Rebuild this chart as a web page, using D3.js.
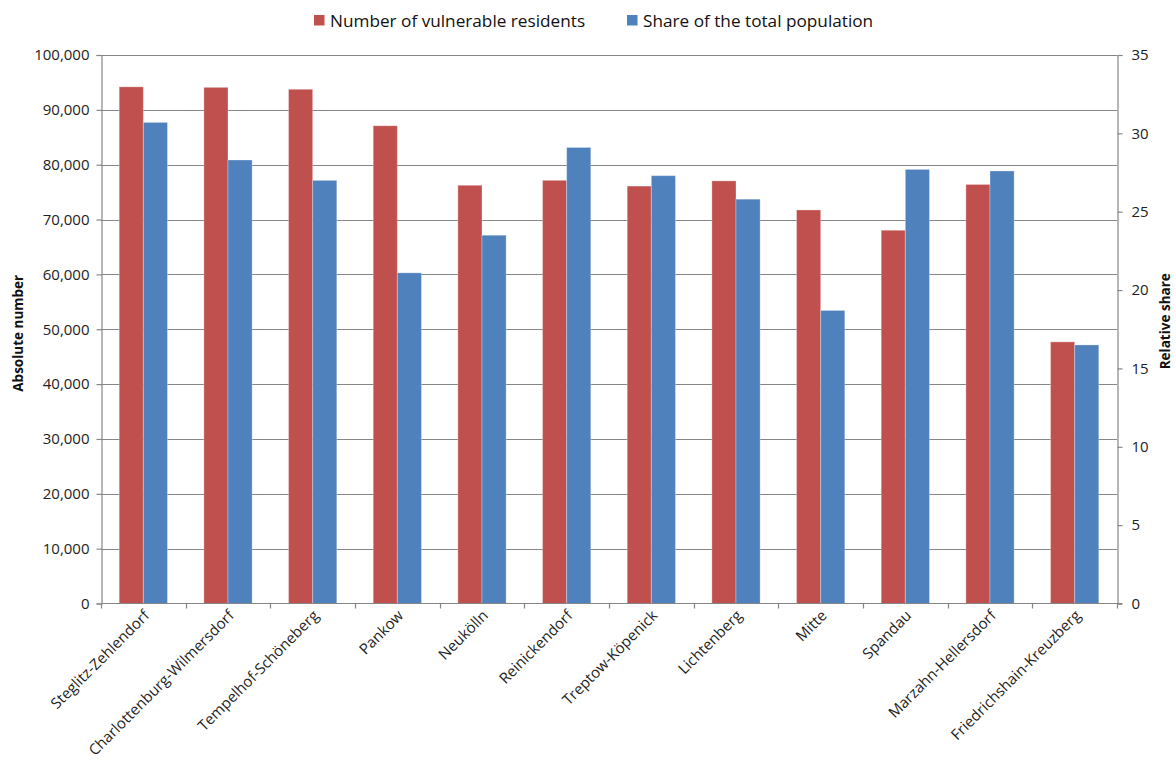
<!DOCTYPE html>
<html>
<head>
<meta charset="utf-8">
<script src="https://cdn.jsdelivr.net/npm/d3@7"></script>
<style>
  html, body { margin: 0; padding: 0; background: #fff; }
  svg { display: block; font-family: "Open Sans", sans-serif; }
</style>
</head>
<body>
<svg id="chart" width="1176" height="760"></svg>
<script>
// Berlin districts: vulnerable residents (absolute) and their share of the population (%)
const districts = [
  "Steglitz-Zehlendorf", "Charlottenburg-Wilmersdorf", "Tempelhof-Schöneberg", "Pankow",
  "Neukölln", "Reinickendorf", "Treptow-Köpenick", "Lichtenberg", "Mitte", "Spandau",
  "Marzahn-Hellersdorf", "Friedrichshain-Kreuzberg"
];
const residents = [94200, 94100, 93750, 87100, 76250, 77150, 76100, 77050, 71750, 68050, 76400, 47700];
const shares = [30.7, 28.3, 27.0, 21.1, 23.5, 29.1, 27.3, 25.8, 18.7, 27.7, 27.6, 16.5];
const seriesNames = ["Number of vulnerable residents", "Share of the total population"];
const seriesColors = ["#C0504D", "#4F81BD"];
const leftTicks = [0, 10000, 20000, 30000, 40000, 50000, 60000, 70000, 80000, 90000, 100000];
const rightTicks = [0, 5, 10, 15, 20, 25, 30, 35];
const leftTitle = "Absolute number";
const rightTitle = "Relative share";

const svg = d3.select("#chart");
const plot = { left: 101, right: 1117, top: 55, bottom: 603.5 };
const axisColor = "#868686";

const x = d3.scaleBand().domain(districts).range([plot.left, plot.right])
  .paddingInner(0.43).paddingOuter(0.215);
const xSub = d3.scaleBand().domain([0, 1]).range([0, x.bandwidth()]);
const yLeft = d3.scaleLinear().domain([0, 100000]).range([plot.bottom, plot.top]);
const yRight = d3.scaleLinear().domain([0, 35]).range([plot.bottom, plot.top]);

// horizontal gridlines on the left scale
svg.append("g").selectAll("line").data(leftTicks.slice(1)).join("line")
  .attr("x1", plot.left).attr("x2", plot.right)
  .attr("y1", d => Math.round(yLeft(d)) + 0.5).attr("y2", d => Math.round(yLeft(d)) + 0.5)
  .attr("stroke", axisColor).attr("stroke-width", 1.2);

// bars
const groups = svg.append("g").selectAll("g").data(districts).join("g")
  .attr("transform", d => `translate(${x(d)},0)`);
groups.append("rect")
  .attr("x", xSub(0)).attr("width", xSub.bandwidth())
  .attr("y", (d, i) => yLeft(residents[i]))
  .attr("height", (d, i) => plot.bottom - yLeft(residents[i]))
  .attr("fill", seriesColors[0])
  .attr("stroke", "rgba(255,255,255,0.3)").attr("stroke-width", 1);
groups.append("rect")
  .attr("x", xSub(1)).attr("width", xSub.bandwidth())
  .attr("y", (d, i) => yRight(shares[i]))
  .attr("height", (d, i) => plot.bottom - yRight(shares[i]))
  .attr("fill", seriesColors[1])
  .attr("stroke", "rgba(255,255,255,0.3)").attr("stroke-width", 1);

function styleAxis(g) {
  g.select(".domain").attr("stroke", axisColor).attr("stroke-width", 1.2);
  g.selectAll(".tick line").attr("stroke", axisColor).attr("stroke-width", 1.2);
  g.selectAll(".tick text").attr("fill", "#222").attr("font-size", 15)
    .attr("font-family", "'Open Sans', sans-serif");
}

// left axis
svg.append("g").attr("transform", `translate(${plot.left + 0.5},0)`)
  .call(d3.axisLeft(yLeft).tickValues(leftTicks).tickFormat(d3.format(",")).tickSizeOuter(0).tickSize(5).tickPadding(7))
  .call(styleAxis);

// right axis
svg.append("g").attr("transform", `translate(${plot.right + 0.5},0)`)
  .call(d3.axisRight(yRight).tickValues(rightTicks).tickSizeOuter(0).tickSize(5).tickPadding(9))
  .call(styleAxis);

// category axis with ticks between the categories
const xAxis = svg.append("g").attr("transform", `translate(0,${plot.bottom})`);
xAxis.append("line").attr("x1", plot.left).attr("x2", plot.right + 5)
  .attr("stroke", axisColor).attr("stroke-width", 1.2);
const step = x.step();
xAxis.selectAll("line.sep").data(d3.range(districts.length + 1)).join("line")
  .attr("class", "sep")
  .attr("x1", i => Math.round(plot.left + i * step) + 0.5)
  .attr("x2", i => Math.round(plot.left + i * step) + 0.5)
  .attr("y1", 0).attr("y2", 5)
  .attr("stroke", axisColor).attr("stroke-width", 1.2);
xAxis.selectAll("text").data(districts).join("text")
  .attr("transform", d => `translate(${x(d) + x.bandwidth() / 2 + 7},${13}) rotate(-45)`)
  .attr("text-anchor", "end")
  .attr("font-size", 15).attr("fill", "#222")
  .text(d => d);

// axis titles
svg.append("text")
  .attr("transform", `translate(23,${(plot.top + plot.bottom) / 2 + 4}) rotate(-90)`)
  .attr("text-anchor", "middle").attr("font-size", 13.5).attr("font-weight", "bold").attr("fill", "#111")
  .text(leftTitle);
svg.append("text")
  .attr("transform", `translate(1170,${(plot.top + plot.bottom) / 2 - 8}) rotate(-90)`)
  .attr("text-anchor", "middle").attr("font-size", 13.5).attr("font-weight", "bold").attr("fill", "#111")
  .text(rightTitle);

// legend
const legendX = [314, 627];
const legend = svg.append("g").selectAll("g").data(seriesNames).join("g")
  .attr("transform", (d, i) => `translate(${legendX[i]},15)`);
legend.append("rect").attr("width", 10.5).attr("height", 10.5)
  .attr("fill", (d, i) => seriesColors[i]);
legend.append("text").attr("x", 16).attr("y", 11.5)
  .attr("font-size", 17.2).attr("fill", "#111").text(d => d);
</script>
</body>
</html>
